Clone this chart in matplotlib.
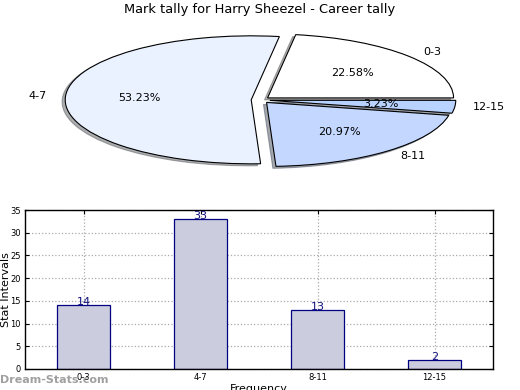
import matplotlib
matplotlib.use("Agg")
import matplotlib.pyplot as plt
import numpy as np

categories = ["0-3", "4-7", "8-11", "12-15"]
counts = [14, 33, 13, 2]
pie_colors = ["#ffffff", "#eaf1ff", "#c4d8ff", "#b8d3ff"]
explode = [0.05, 0.05, 0.05, 0.05]
title = "Mark tally for Harry Sheezel - Career tally"

fig = plt.figure(figsize=(5.2, 3.9), dpi=100)
W, H = 520, 390

def rect(x0, y0, x1, y1):
    return [x0 / W, 1 - y1 / H, (x1 - x0) / W, (y1 - y0) / H]

# Pie
axp = fig.add_axes(rect(28, 20, 493, 180))
wedges, texts, autotexts = axp.pie(
    counts, labels=categories, colors=pie_colors, explode=explode,
    autopct="%1.2f%%", startangle=0,
    shadow={"ox": -0.012, "oy": -0.022, "shade": 0.62},
    pctdistance=0.6, labeldistance=1.1,
    wedgeprops=dict(edgecolor="black", linewidth=0.8),
    textprops=dict(fontsize=8))
axp.set_aspect("auto")
axp.set_xlim(-1.25, 1.25)
axp.set_ylim(-1.25, 1.25)
fig.text(0.5, 1 - 10 / H, title, ha="center", va="center", fontsize=9.4)

# Bars
axb = fig.add_axes(rect(25, 210, 493, 369))
x = np.arange(len(categories))
bars = axb.bar(x, counts, width=0.45, color="#ccccdf", edgecolor="#000080",
               linewidth=0.9, zorder=2)
for xi, v in zip(x, counts):
    axb.text(xi, v, str(v), ha="center", va="baseline", fontsize=8,
             color="#101080", zorder=3)
axb.set_xlim(-0.5, len(categories) - 0.5)
axb.set_ylim(0, 35)
axb.set_yticks(np.arange(0, 36, 5))
axb.set_xticks(x)
axb.set_xticklabels(categories)
axb.tick_params(direction="in", top=True, right=True, labelsize=6, length=3,
                pad=3)
axb.grid(True, linestyle=":", color="#aaaaaa", linewidth=0.9, zorder=0)
axb.set_axisbelow(True)
axb.set_ylabel("Stat Intervals", fontsize=8)
axb.yaxis.set_label_coords(-0.029, 0.5)
axb.set_xlabel("Frequency", fontsize=8, labelpad=1)
for s in axb.spines.values():
    s.set_linewidth(1.0)

fig.text(0.0, 1 - 380 / H, "Dream-Stats.com", ha="left", va="center",
         fontsize=8, fontweight="bold", color="#a0a0a0")

fig.savefig("out.png", dpi=100)
